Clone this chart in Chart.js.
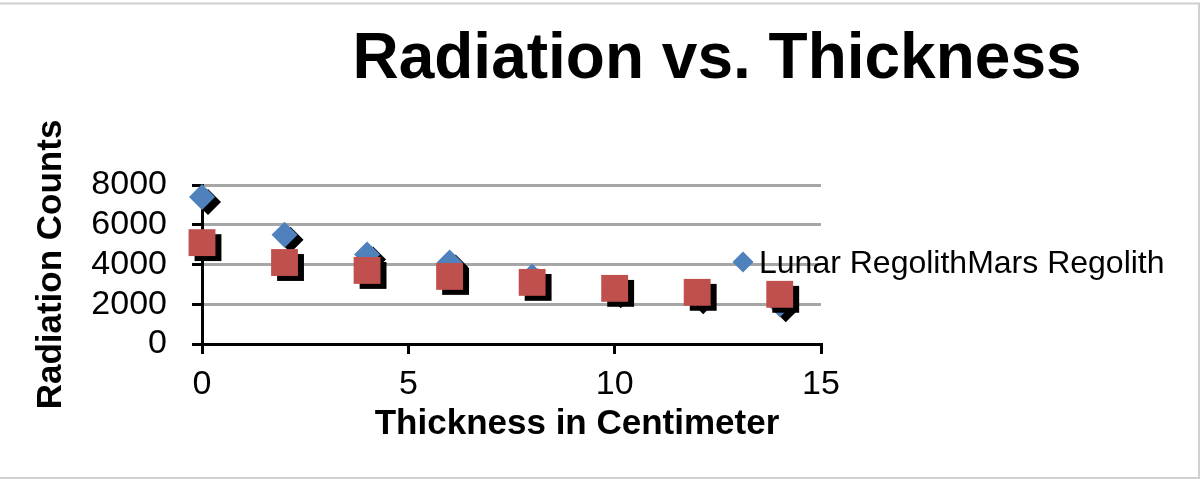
<!DOCTYPE html>
<html>
<head>
<meta charset="utf-8">
<title>Radiation vs. Thickness</title>
<script src="https://cdn.jsdelivr.net/npm/chart.js@4/dist/chart.umd.min.js"></script>
<style>
  html, body { margin: 0; padding: 0; background: #fff; }
  #wrap { width: 1200px; height: 479px; position: relative; }
</style>
</head>
<body>
<div id="wrap"><canvas id="radiationChart"></canvas></div>
<script>
// measurements: thickness (cm) vs radiation counts
const thickness = [0, 2, 4, 6, 8, 10, 12, 14];
const lunarCounts = [7400, 5500, 4500, 4100, 3400, 2700, 2400, 2000];
const marsCounts = [5100, 4100, 3700, 3400, 3100, 2800, 2600, 2500];
const seriesNames = ['Lunar Regolith', 'Mars Regolith'];
const yTicks = [0, 2000, 4000, 6000, 8000];
const xTicks = [0, 5, 10, 15];

const FONT = '"Liberation Sans", Arial, sans-serif';
const BLUE = '#4f81bd';
const RED = '#c0504d';

Chart.defaults.font.family = FONT;
Chart.defaults.color = '#000';

const toPoints = (xs, ys) => xs.map((x, i) => ({ x: x, y: ys[i] }));

// hard black drop shadow under every marker
const dropShadow = {
  id: 'dropShadow',
  beforeDatasetDraw(chart) {
    const ctx = chart.ctx;
    ctx.save();
    ctx.shadowColor = '#000';
    ctx.shadowBlur = 0;
    ctx.shadowOffsetX = 6;
    ctx.shadowOffsetY = 5;
  },
  afterDatasetDraw(chart) {
    chart.ctx.restore();
  }
};

// frame, chart title, x axis title and the single-row legend
const decorations = {
  id: 'decorations',
  afterDraw(chart) {
    const ctx = chart.ctx;
    const area = chart.chartArea;
    ctx.save();

    ctx.strokeStyle = '#d0d0d0';
    ctx.lineWidth = 2;
    ctx.beginPath();
    ctx.moveTo(0, 3.5);
    ctx.lineTo(1199, 3.5);
    ctx.lineTo(1199, 478);
    ctx.lineTo(0, 478);
    ctx.stroke();

    ctx.fillStyle = '#000';
    ctx.textAlign = 'center';
    ctx.textBaseline = 'alphabetic';
    ctx.font = 'bold 64px ' + FONT;
    ctx.fillText('Radiation vs. Thickness', 717, 78);

    ctx.font = 'bold 35px ' + FONT;
    ctx.fillText('Thickness in Centimeter', 577, 434);

    const lx = area.right - 78;
    const ly = 262;
    ctx.fillStyle = BLUE;
    Chart.helpers.drawPoint(ctx, {
      pointStyle: 'rectRot', radius: 10.5, borderWidth: 0
    }, lx, ly);

    ctx.fillStyle = '#000';
    ctx.textAlign = 'left';
    ctx.font = '32px ' + FONT;
    ctx.fillText(seriesNames.join(''), lx + 16, 273);

    ctx.restore();
  }
};

new Chart(document.getElementById('radiationChart'), {
  type: 'scatter',
  data: {
    datasets: [
      {
        label: seriesNames[0],
        data: toPoints(thickness, lunarCounts),
        pointStyle: 'rectRot',
        pointRadius: 13,
        pointHoverRadius: 13,
        backgroundColor: BLUE,
        borderWidth: 0,
        pointBorderWidth: 0,
        clip: false,
        order: 1
      },
      {
        label: seriesNames[1],
        data: toPoints(thickness, marsCounts),
        pointStyle: 'rect',
        pointRadius: 19,
        pointHoverRadius: 19,
        backgroundColor: RED,
        borderWidth: 0,
        pointBorderWidth: 0,
        clip: false,
        order: 0
      }
    ]
  },
  options: {
    responsive: true,
    maintainAspectRatio: false,
    animation: false,
    devicePixelRatio: 1,
    events: [],
    layout: { padding: { top: 185, right: 379, bottom: 0, left: 10 } },
    plugins: {
      legend: { display: false },
      title: { display: false },
      tooltip: { enabled: false }
    },
    scales: {
      x: {
        type: 'linear',
        min: xTicks[0],
        max: xTicks[xTicks.length - 1],
        afterFit(scale) { scale.height = 135; },
        ticks: {
          stepSize: xTicks[1] - xTicks[0],
          autoSkip: false,
          font: { size: 34 },
          color: '#000',
          padding: 10,
          maxRotation: 0,
          callback: (v) => String(v)
        },
        grid: {
          drawOnChartArea: false,
          drawTicks: true,
          tickLength: 10,
          tickColor: '#000',
          lineWidth: 3,
          z: -1
        },
        border: { display: true, color: '#000', width: 3 }
      },
      y: {
        type: 'linear',
        min: yTicks[0],
        max: yTicks[yTicks.length - 1],
        afterFit(scale) { scale.width = 192; },
        ticks: {
          stepSize: yTicks[1] - yTicks[0],
          autoSkip: false,
          font: { size: 34 },
          color: '#000',
          padding: 25,
          callback: (v) => String(v)
        },
        grid: {
          color: '#a6a6a6',
          lineWidth: 3,
          tickLength: 10,
          tickColor: '#000',
          z: -1
        },
        border: { display: true, color: '#000', width: 3 },
        title: {
          display: true,
          text: 'Radiation Counts',
          color: '#000',
          font: { size: 35, weight: 'bold' },
          padding: { top: 20, bottom: 0 }
        }
      }
    }
  },
  plugins: [dropShadow, decorations]
});
</script>
</body>
</html>
